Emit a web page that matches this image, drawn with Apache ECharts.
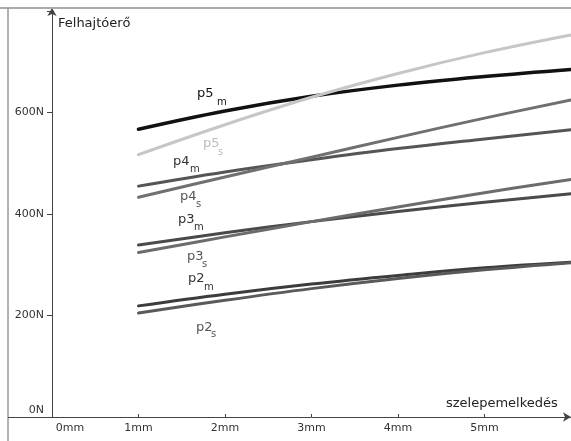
<!DOCTYPE html>
<html>
<head>
<meta charset="utf-8">
<script src="https://cdn.jsdelivr.net/npm/echarts@6/dist/echarts.min.js"></script>
<style>
  html, body { margin: 0; padding: 0; background: #fff; }
  #chart { width: 571px; height: 441px; }
</style>
</head>
<body>
<div id="chart"></div>
<script>
// szelepemelkedés (mm)
const lift = [1, 2, 3, 4, 5, 6];

// felhajtóerő (N)
const p5m = [567, 603, 632, 654, 671, 685];
const p5s = [517, 576, 630, 677, 718, 753];
const p4m = [455, 483, 507, 529, 548, 566];
const p4s = [433, 473, 512, 551, 589, 625];
const p3m = [339, 363, 385, 405, 423, 440];
const p3s = [324, 355, 385, 414, 442, 468];
const p2m = [219, 242, 262, 279, 294, 305];
const p2s = [205, 230, 253, 273, 290, 304];

const yTicks = [0, 200, 400, 600];

const font = "DejaVu Sans";

const lines = [
  { name: "p5m", data: p5m, color: "#111", width: 3.5 },
  { name: "p5s", data: p5s, color: "#c6c6c6", width: 3 },
  { name: "p4m", data: p4m, color: "#555", width: 3 },
  { name: "p4s", data: p4s, color: "#707070", width: 3 },
  { name: "p3m", data: p3m, color: "#4a4a4a", width: 3 },
  { name: "p3s", data: p3s, color: "#6c6c6c", width: 3 },
  { name: "p2m", data: p2m, color: "#3c3c3c", width: 3 },
  { name: "p2s", data: p2s, color: "#5a5a5a", width: 3 },
];

// curve labels: main text, subscript, colour, pixel spot
const tags = [
  { main: "p5", sub: "m", color: "#111", x: 197, y: 94, sx: 217, sy: 102 },
  { main: "p5", sub: "s", color: "#bbb", x: 203, y: 144, sx: 218, sy: 152 },
  { main: "p4", sub: "m", color: "#333", x: 173, y: 162, sx: 190, sy: 169 },
  { main: "p4", sub: "s", color: "#555", x: 180, y: 197, sx: 196, sy: 204 },
  { main: "p3", sub: "m", color: "#333", x: 178, y: 220, sx: 194, sy: 227 },
  { main: "p3", sub: "s", color: "#555", x: 187, y: 257, sx: 202, sy: 264 },
  { main: "p2", sub: "m", color: "#333", x: 188, y: 279, sx: 204, sy: 287 },
  { main: "p2", sub: "s", color: "#555", x: 196, y: 328, sx: 211, sy: 334 },
];

const graphics = [
  // frame
  { type: "line", shape: { x1: 0, y1: 8, x2: 571, y2: 8 }, style: { stroke: "#aaa", lineWidth: 2 }, z: 10 },
  { type: "line", shape: { x1: 8, y1: 8, x2: 8, y2: 441 }, style: { stroke: "#999", lineWidth: 1.5 }, z: 10 },
  // x axis continues left of y axis
  { type: "line", shape: { x1: 8, y1: 417.5, x2: 52, y2: 417.5 }, style: { stroke: "#444", lineWidth: 1 }, z: 10 },
  { type: "text", left: 58, top: 17, style: { text: "Felhajtóerő", font: "13px " + font, fill: "#222" }, z: 10 },
  { type: "text", left: 446, top: 397, style: { text: "szelepemelkedés", font: "13px " + font, fill: "#222" }, z: 10 },
];
tags.forEach(t => {
  graphics.push({ type: "text", x: t.x, y: t.y, style: { text: t.main, font: "13px " + font, fill: t.color, textVerticalAlign: "middle" }, z: 10 });
  graphics.push({ type: "text", x: t.sx, y: t.sy, style: { text: t.sub, font: "10px " + font, fill: t.color, textVerticalAlign: "middle" }, z: 10 });
});

const chart = echarts.init(document.getElementById("chart"));
chart.setOption({
  animation: false,
  backgroundColor: "#fff",
  grid: { left: 52, right: 0, top: 8, bottom: 24 },
  xAxis: {
    type: "value",
    min: 0,
    max: 6,
    interval: 1,
    axisLine: { show: true, lineStyle: { color: "#444", width: 1 }, symbol: ["none", "arrow"], symbolSize: [7, 8] },
    axisTick: { show: true, inside: true, length: 3, lineStyle: { color: "#444" } },
    splitLine: { show: false },
    axisLabel: {
      showMaxLabel: false,
      margin: 6,
      color: "#333",
      fontFamily: font,
      fontSize: 11,
      formatter: v => (v === 0 ? "{z|0mm}" : v + "mm"),
      rich: { z: { padding: [0, 0, 0, 36], color: "#333", fontFamily: font, fontSize: 11 } },
    },
  },
  yAxis: {
    type: "value",
    min: 0,
    max: 806,
    interval: 200,
    axisLine: { show: true, lineStyle: { color: "#444", width: 1 }, symbol: ["none", "arrow"], symbolSize: [7, 8] },
    axisTick: { show: true, length: 5, lineStyle: { color: "#444" } },
    splitLine: { show: false },
    axisLabel: {
      showMaxLabel: false,
      margin: 8,
      color: "#333",
      fontFamily: font,
      fontSize: 11,
      formatter: v => (!yTicks.includes(v) ? "" : v === 0 ? "{z|0N}" : v + "N"),
      rich: { z: { padding: [0, 0, 14, 0], color: "#333", fontFamily: font, fontSize: 11 } },
    },
  },
  series: lines.map(l => ({
    name: l.name,
    type: "line",
    smooth: 0.4,
    showSymbol: false,
    lineStyle: { color: l.color, width: l.width, cap: "round" },
    data: lift.map((x, i) => [x, l.data[i]]),
  })),
  graphic: graphics,
});
</script>
</body>
</html>
